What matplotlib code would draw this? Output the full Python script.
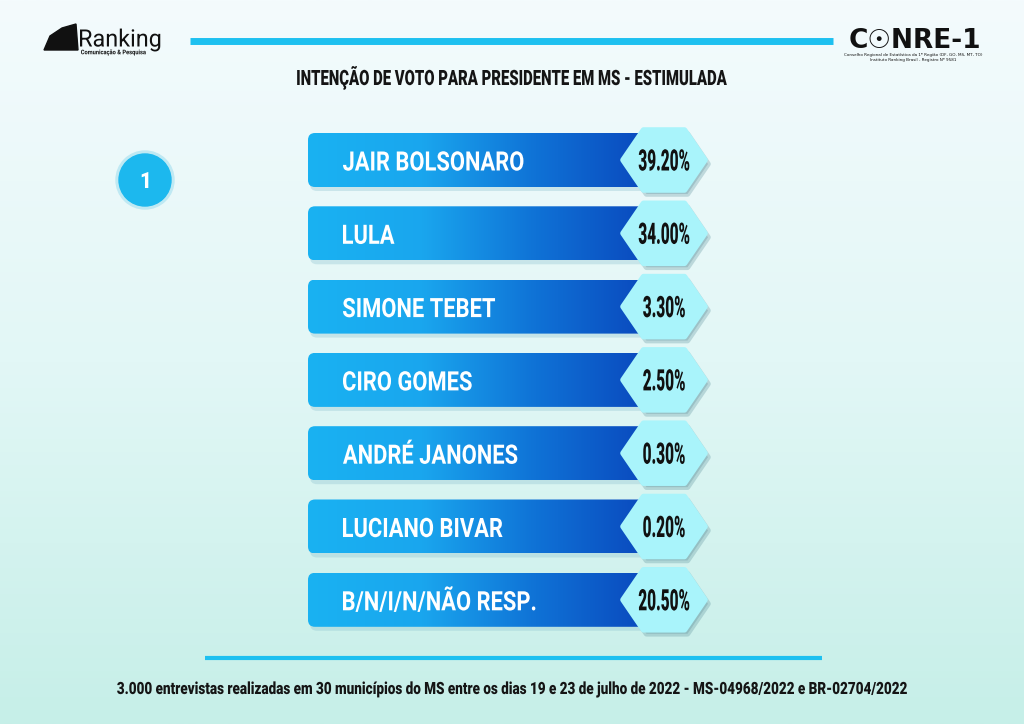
import numpy as np
import matplotlib
matplotlib.use('Agg')
import matplotlib.pyplot as plt
from matplotlib.patches import FancyBboxPatch, Polygon, Circle, PathPatch
from matplotlib.colors import LinearSegmentedColormap
from matplotlib.textpath import TextPath
from matplotlib.font_manager import FontProperties
from matplotlib.transforms import Affine2D

# data
candidates = ['JAIR BOLSONARO', 'LULA', 'SIMONE TEBET', 'CIRO GOMES',
              'ANDRÉ JANONES', 'LUCIANO BIVAR', 'B/N/I/N/NÃO RESP.']
percent = [39.20, 34.00, 3.30, 2.50, 0.30, 0.20, 20.50]

title = 'INTENÇÃO DE VOTO PARA PRESIDENTE EM MS - ESTIMULADA'
footer = ('3.000 entrevistas realizadas em 30 municípios do MS entre os dias '
          '19 e 23 de julho de 2022 - MS-04968/2022 e BR-02704/2022')

W, H = 1024, 724
fig = plt.figure(figsize=(W / 100, H / 100), dpi=100)
ax = fig.add_axes([0, 0, 1, 1])
ax.set_xlim(0, W)
ax.set_ylim(H, 0)
ax.axis('off')

bold = FontProperties(family='Roboto', weight='bold')
heavy = FontProperties(family='Roboto', weight='black')


def ctext(x, y, s, cap, sx, color, ha='left', prop=bold, z=5):
    """condensed text drawn as a path; cap = cap height in px, y = cap centre"""
    ref = TextPath((0, 0), 'H', size=100, prop=prop).get_extents()
    size = cap * 100 / ref.height
    tp = TextPath((0, 0), s, size=size, prop=prop)
    bb = tp.get_extents()
    w = bb.width * sx
    shift = {'left': 0, 'center': 0.5, 'right': 1}[ha] * w
    tr = (Affine2D().translate(-bb.x0, -cap / 2).scale(sx, -1)
          .translate(x - shift, y))
    ax.add_patch(PathPatch(tr.transform_path(tp), fc=color, ec='none', lw=0, zorder=z))


# background gradient (white-ish top -> mint bottom)
bg = LinearSegmentedColormap.from_list('bg', ['#f4fbfd', '#e2f7f6', '#c6efe8'])
grad = np.linspace(0, 1, 256).reshape(-1, 1)
ax.imshow(grad, cmap=bg, extent=[0, W, H, 0], aspect='auto', zorder=0)

# header / footer lines
ax.plot([190, 833], [41, 41], color='#1ec0f0', lw=5, solid_capstyle='butt', zorder=2)
ax.plot([205, 822], [658, 658], color='#1ec0f0', lw=3, solid_capstyle='butt', zorder=2)

# logos (text stand-ins)
ax.add_patch(Polygon([[44, 50], [50, 36], [62, 28], [76, 24], [78, 50]],
                     closed=True, color='#111111', zorder=3))
ctext(80, 38, 'Ranking', 17, 0.98, '#111111', prop=FontProperties(family='Roboto'))
ctext(81, 52, 'Comunicação & Pesquisa', 4.5, 0.9, '#111111')
ax.text(915, 41, 'C☉NRE-1', fontsize=19, fontweight='bold', color='#111111',
        va='center', ha='center', family=['DejaVu Sans'], zorder=3)
ax.text(913, 55, 'Conselho Regional de Estatística da 1ª Região (DF, GO, MS, MT, TO)',
        fontsize=3, color='#111111', ha='center', va='center', zorder=3)
ax.text(913, 60, 'Instituto Ranking Brasil - Registro Nº 9581',
        fontsize=3, color='#111111', ha='center', va='center', zorder=3)

# title
ctext(512, 77.5, title, 15, 0.705, '#151515', ha='center', prop=heavy)

# number badge
ax.add_patch(Circle((145, 180), 29, color='#bfe9f3', zorder=2))
ax.add_patch(Circle((145, 180), 26, color='#1cb8ee', zorder=3))
ctext(145, 180, '1', 16, 0.9, 'white', ha='center', prop=heavy)

# bars
bar_cmap = LinearSegmentedColormap.from_list('bar', ['#19b2f2', '#1aa6ee', '#0f72d6', '#0a48bd'])
hgrad = np.linspace(0, 1, 256).reshape(1, -1)
x0, x1 = 308, 650
bh = 54
y_first, step = 160, 73.3
hex_cx, hex_hw, hex_hh = 664, 41, 30

for i, (name, val) in enumerate(zip(candidates, percent)):
    yc = y_first + i * step
    # shadow
    sh = FancyBboxPatch((x0 + 2, yc - bh / 2 + 4), x1 - x0, bh,
                        boxstyle='round,pad=0,rounding_size=7',
                        fc='#8fc3cf', ec='none', alpha=0.35, zorder=2)
    ax.add_patch(sh)
    box = FancyBboxPatch((x0, yc - bh / 2), x1 - x0, bh,
                         boxstyle='round,pad=0,rounding_size=7',
                         fc='none', ec='none', zorder=3)
    ax.add_patch(box)
    im = ax.imshow(hgrad, cmap=bar_cmap, extent=[x0, x1, yc + bh / 2, yc - bh / 2],
                   aspect='auto', zorder=3)
    im.set_clip_path(box)
    ctext(x0 + 35, yc + 1, name, 19, 0.82, 'white', z=4)

    # hexagon value tag (thick round-joined edge gives soft corners)
    pts = [[hex_cx - hex_hw, yc], [hex_cx - hex_hw / 2, yc - hex_hh],
           [hex_cx + hex_hw / 2, yc - hex_hh], [hex_cx + hex_hw, yc],
           [hex_cx + hex_hw / 2, yc + hex_hh], [hex_cx - hex_hw / 2, yc + hex_hh]]
    shadow_pts = [[p[0] + 3, p[1] + 4] for p in pts]
    ax.add_patch(Polygon(shadow_pts, closed=True, fc='#5a8f9a', ec='#5a8f9a', lw=4,
                         alpha=0.3, zorder=4, joinstyle='round'))
    ax.add_patch(Polygon(pts, closed=True, fc='#a9f4fb', ec='#a9f4fb', lw=4,
                         zorder=5, joinstyle='round'))
    ctext(hex_cx, yc, f'{val:.2f}%', 21, 0.52, '#111111', ha='center', prop=heavy, z=6)

# footer text
ctext(512, 688, footer, 12, 0.80, '#151515', ha='center', prop=heavy)

fig.savefig('out.png', dpi=100)
